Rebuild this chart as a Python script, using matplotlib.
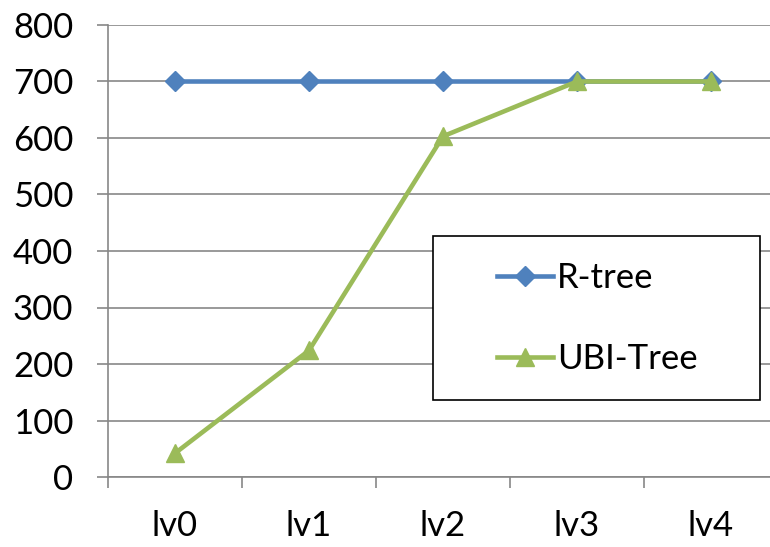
import matplotlib
matplotlib.use('Agg')
import matplotlib.pyplot as plt
from matplotlib.patches import Rectangle

levels = ['lv0', 'lv1', 'lv2', 'lv3', 'lv4']
rtree = [700, 700, 700, 700, 700]
ubi_tree = [42, 224, 603, 700, 700]
yticks = [0, 100, 200, 300, 400, 500, 600, 700, 800]

plt.rcParams['font.family'] = ['Lato', 'DejaVu Sans']

fig = plt.figure(figsize=(7.7, 5.47), dpi=100)
ax = fig.add_axes([108 / 770, 70 / 547, 670 / 770, 452 / 547])

xs = list(range(len(levels)))
ax.plot(xs, rtree, color='#4F81BD', lw=3.3, marker='D', ms=10,
        label='R-tree', zorder=3)
ax.plot(xs, ubi_tree, color='#9BBB59', lw=3.3, marker='^', ms=13,
        label='UBI-Tree', zorder=4)

ax.set_xlim(-0.5, 4.5)
ax.set_ylim(0, 800)
ax.set_yticks(yticks)
ax.set_xticks([i - 0.5 for i in range(6)], minor=False)
ax.set_xticklabels([])
ax.set_xticks(xs, minor=True)
ax.set_xticklabels(levels, minor=True)
ax.tick_params(axis='x', which='major', length=8, color='#878787', width=1.2)
ax.tick_params(axis='x', which='minor', length=0, pad=24, labelsize=25)
ax.tick_params(axis='y', length=8, color='#878787', width=1.2, labelsize=25, pad=17)

ax.grid(axis='y', color='#878787', lw=1.2)
ax.set_axisbelow(True)
for s in ['top', 'right']:
    ax.spines[s].set_visible(False)
for s in ['left', 'bottom']:
    ax.spines[s].set_color('#878787')
    ax.spines[s].set_linewidth(1.2)

# legend box
fig.patches.append(Rectangle((433 / 770, 147 / 547), 327 / 770, 164 / 547,
                             transform=fig.transFigure, fill=True,
                             facecolor='white', edgecolor='black', lw=1.2,
                             zorder=5))
leg = fig.legend(loc='upper left', bbox_to_anchor=(480 / 770, 1 - 245 / 547),
                 frameon=False, fontsize=25, handlelength=1.6,
                 handletextpad=0.12, labelspacing=1.4, borderpad=0)
leg.set_zorder(6)

fig.savefig('out.png', dpi=100)
